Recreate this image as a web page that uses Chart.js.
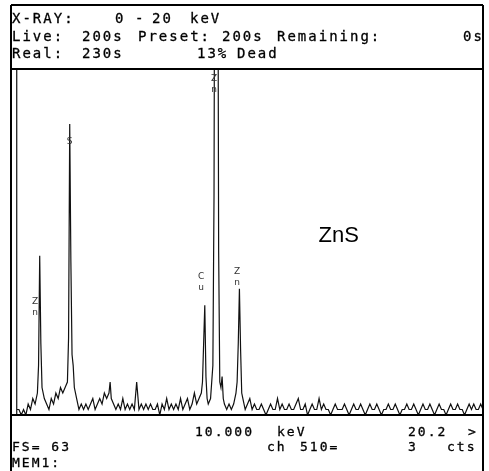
<!DOCTYPE html>
<html>
<head>
<meta charset="utf-8">
<script src="https://cdn.jsdelivr.net/npm/chart.js@4.4.0/dist/chart.umd.min.js"></script>
<style>
  body { margin: 0; background: #fff; }
  #wrap { position: relative; width: 489px; height: 471px; overflow: hidden; }
  #spec { position: absolute; left: 0; top: 0; }
  .t { position: absolute; font-family: "DejaVu Sans Mono", monospace; font-size: 14px;
       line-height: 14px; letter-spacing: 2px; color: #000; white-space: pre;
       -webkit-text-stroke: 0.3px #000; }
  .f { font-size: 13px; line-height: 13px; }
</style>
</head>
<body>
<div id="wrap">
  <canvas id="spec" width="489" height="471"></canvas>

  <span class="t" style="left:12px;top:11px">X-RAY:</span>
  <span class="t" style="left:115px;top:11px">0</span>
  <span class="t" style="left:135px;top:11px">-</span>
  <span class="t" style="left:152px;top:11px">20</span>
  <span class="t" style="left:190px;top:11px">keV</span>

  <span class="t" style="left:12px;top:29px">Live:</span>
  <span class="t" style="left:82px;top:29px">200s</span>
  <span class="t" style="left:138px;top:29px">Preset:</span>
  <span class="t" style="left:222px;top:29px">200s</span>
  <span class="t" style="left:277px;top:29px">Remaining:</span>
  <span class="t" style="left:463px;top:29px">0s</span>

  <span class="t" style="left:12px;top:46px">Real:</span>
  <span class="t" style="left:82px;top:46px">230s</span>
  <span class="t" style="left:197px;top:46px">13%</span>
  <span class="t" style="left:237px;top:46px">Dead</span>

  <span class="t f" style="left:195px;top:425px">10.000</span>
  <span class="t f" style="left:277px;top:425px">keV</span>
  <span class="t f" style="left:408px;top:425px">20.2</span>
  <span class="t f" style="left:468px;top:425px">&gt;</span>

  <span class="t f" style="left:12px;top:440px">FS= 63</span>
  <span class="t f" style="left:267px;top:440px">ch</span>
  <span class="t f" style="left:300px;top:440px">510=</span>
  <span class="t f" style="left:408px;top:440px">3</span>
  <span class="t f" style="left:447px;top:440px">cts</span>

  <span class="t f" style="left:12px;top:456px">MEM1:</span>
</div>

<script>
// energy (keV) and counts, FS = 63 counts
var keV = [
  -0.2, -0.1, -0.01, 0.0, 0.01, 0.1, 0.2, 0.3, 0.4, 0.5,
  0.6, 0.7, 0.8, 0.9, 0.95, 1.0, 1.05, 1.1, 1.2, 1.3,
  1.4, 1.5, 1.6, 1.7, 1.8, 1.9, 2.0, 2.1, 2.2, 2.25,
  2.3, 2.35, 2.4, 2.45, 2.5, 2.6, 2.7, 2.8, 2.9, 3.0,
  3.1, 3.2, 3.3, 3.4, 3.5, 3.6, 3.7, 3.8, 3.9, 4.0,
  4.05, 4.1, 4.2, 4.3, 4.4, 4.5, 4.6, 4.7, 4.8, 4.9,
  5.0, 5.1, 5.2, 5.3, 5.4, 5.5, 5.6, 5.7, 5.8, 5.9,
  6.0, 6.1, 6.2, 6.3, 6.4, 6.5, 6.6, 6.7, 6.8, 6.9,
  7.0, 7.1, 7.2, 7.3, 7.4, 7.5, 7.6, 7.7, 7.8, 7.9,
  8.0, 8.05, 8.1, 8.15, 8.2, 8.25, 8.3, 8.4, 8.5, 8.55,
  8.6, 8.65, 8.7, 8.75, 8.8, 8.85, 8.9, 8.95, 9.0, 9.1,
  9.2, 9.3, 9.4, 9.5, 9.55, 9.6, 9.65, 9.7, 9.75, 9.8,
  9.9, 10.0, 10.1, 10.2, 10.3, 10.4, 10.5, 10.6, 10.7, 10.8,
  10.9, 11.0, 11.1, 11.2, 11.3, 11.4, 11.5, 11.6, 11.7, 11.8,
  11.9, 12.0, 12.1, 12.2, 12.3, 12.4, 12.5, 12.6, 12.7, 12.8,
  12.9, 13.0, 13.1, 13.2, 13.3, 13.4, 13.5, 13.6, 13.7, 13.8,
  13.9, 14.0, 14.1, 14.2, 14.3, 14.4, 14.5, 14.6, 14.7, 14.8,
  14.9, 15.0, 15.1, 15.2, 15.3, 15.4, 15.5, 15.6, 15.7, 15.8,
  15.9, 16.0, 16.1, 16.2, 16.3, 16.4, 16.5, 16.6, 16.7, 16.8,
  16.9, 17.0, 17.1, 17.2, 17.3, 17.4, 17.5, 17.6, 17.7, 17.8,
  17.9, 18.0, 18.1, 18.2, 18.3, 18.4, 18.5, 18.6, 18.7, 18.8,
  18.9, 19.0, 19.1, 19.2, 19.3, 19.4, 19.5, 19.6, 19.7, 19.8,
  19.9, 20.0, 20.1, 20.2
];
var counts = [
  0, 0, 0, 200, 1, 1, 0, 1, 0, 2,
  1, 3, 2, 4, 9, 29, 13, 5, 3, 2,
  1, 3, 2, 4, 3, 5, 4, 5, 6, 14,
  53, 28, 11, 9, 5, 3, 1, 2, 1, 2,
  1, 2, 3, 1, 2, 3, 2, 4, 3, 4,
  6, 3, 2, 1, 2, 1, 3, 1, 2, 1,
  2, 1, 6, 1, 2, 1, 2, 1, 2, 1,
  1, 2, 0, 2, 1, 3, 1, 2, 1, 2,
  1, 3, 1, 2, 3, 1, 2, 4, 2, 3,
  4, 6, 13, 20, 7, 3, 2, 3, 9, 40,
  130, 160, 120, 30, 6, 5, 7, 3, 2, 1,
  2, 1, 2, 4, 6, 13, 23, 12, 4, 3,
  1, 2, 3, 1, 2, 1, 1, 2, 1, 0,
  1, 2, 1, 1, 3, 1, 2, 1, 1, 2,
  1, 1, 2, 3, 1, 1, 2, 0, 1, 2,
  1, 1, 3, 1, 2, 1, 1, 0, 1, 2,
  1, 1, 1, 2, 1, 0, 1, 2, 1, 1,
  2, 1, 0, 1, 2, 1, 1, 2, 1, 0,
  1, 1, 2, 1, 1, 2, 1, 0, 1, 1,
  2, 1, 1, 2, 1, 0, 1, 2, 1, 1,
  2, 1, 0, 1, 2, 1, 1, 0, 1, 2,
  1, 1, 2, 1, 1, 0, 1, 2, 1, 2,
  1, 1, 2, 1
];
if (keV.length != counts.length) console.log("length mismatch " + keV.length + " " + counts.length);

// peak markers printed beside the lines
var markNames = ["Zn", "S", "Cu", "Zn", "Zn"];
var markKeV = [0.8, 2.3, 7.99, 8.55, 9.55];
var markTop = [21.5, 50.5, 26, 62, 27];

var points = [];
for (var i = 0; i < keV.length; i++) {
  points.push({ x: keV[i], y: counts[i] });
}

var framePlugin = {
  id: 'frame',
  afterDraw: function(chart) {
    var ctx = chart.ctx, a = chart.chartArea;
    var sx = chart.scales.x, sy = chart.scales.y;
    ctx.save();
    ctx.strokeStyle = '#000';
    ctx.lineWidth = 2;
    ctx.beginPath();
    ctx.moveTo(11, 5); ctx.lineTo(a.right, 5);
    ctx.moveTo(11, 5); ctx.lineTo(11, chart.height);
    ctx.moveTo(a.right, 5); ctx.lineTo(a.right, chart.height);
    ctx.moveTo(11, a.top); ctx.lineTo(a.right, a.top);
    ctx.moveTo(11, a.bottom); ctx.lineTo(a.right, a.bottom);
    ctx.stroke();

    // stacked peak labels
    ctx.fillStyle = '#333';
    ctx.font = '9px "DejaVu Sans"';
    ctx.textAlign = 'center';
    ctx.textBaseline = 'top';
    for (var i = 0; i < markNames.length; i++) {
      var px = sx.getPixelForValue(markKeV[i]);
      var py = sy.getPixelForValue(markTop[i]);
      for (var j = 0; j < markNames[i].length; j++) {
        ctx.fillText(markNames[i][j], px, py + j * 11);
      }
    }

    ctx.fillStyle = '#000';
    ctx.font = '22px "Liberation Sans"';
    ctx.textBaseline = 'middle';
    ctx.fillText('ZnS', sx.getPixelForValue(13.95), sy.getPixelForValue(32.6));
    ctx.restore();
  }
};

var myChart = new Chart(document.getElementById('spec').getContext('2d'), {
  type: 'line',
  data: {
    datasets: [{
      data: points,
      borderColor: '#111',
      borderWidth: 1.2,
      pointRadius: 0,
      tension: 0,
      fill: false
    }]
  },
  options: {
    responsive: false,
    animation: false,
    events: [],
    layout: { padding: { left: 12, right: 6, top: 69, bottom: 56 } },
    plugins: { legend: { display: false }, tooltip: { enabled: false } },
    scales: {
      x: { type: 'linear', min: -0.2, max: 20.2, display: false },
      y: { min: 0, max: 63, display: false }
    }
  },
  plugins: [framePlugin]
});
</script>
</body>
</html>
